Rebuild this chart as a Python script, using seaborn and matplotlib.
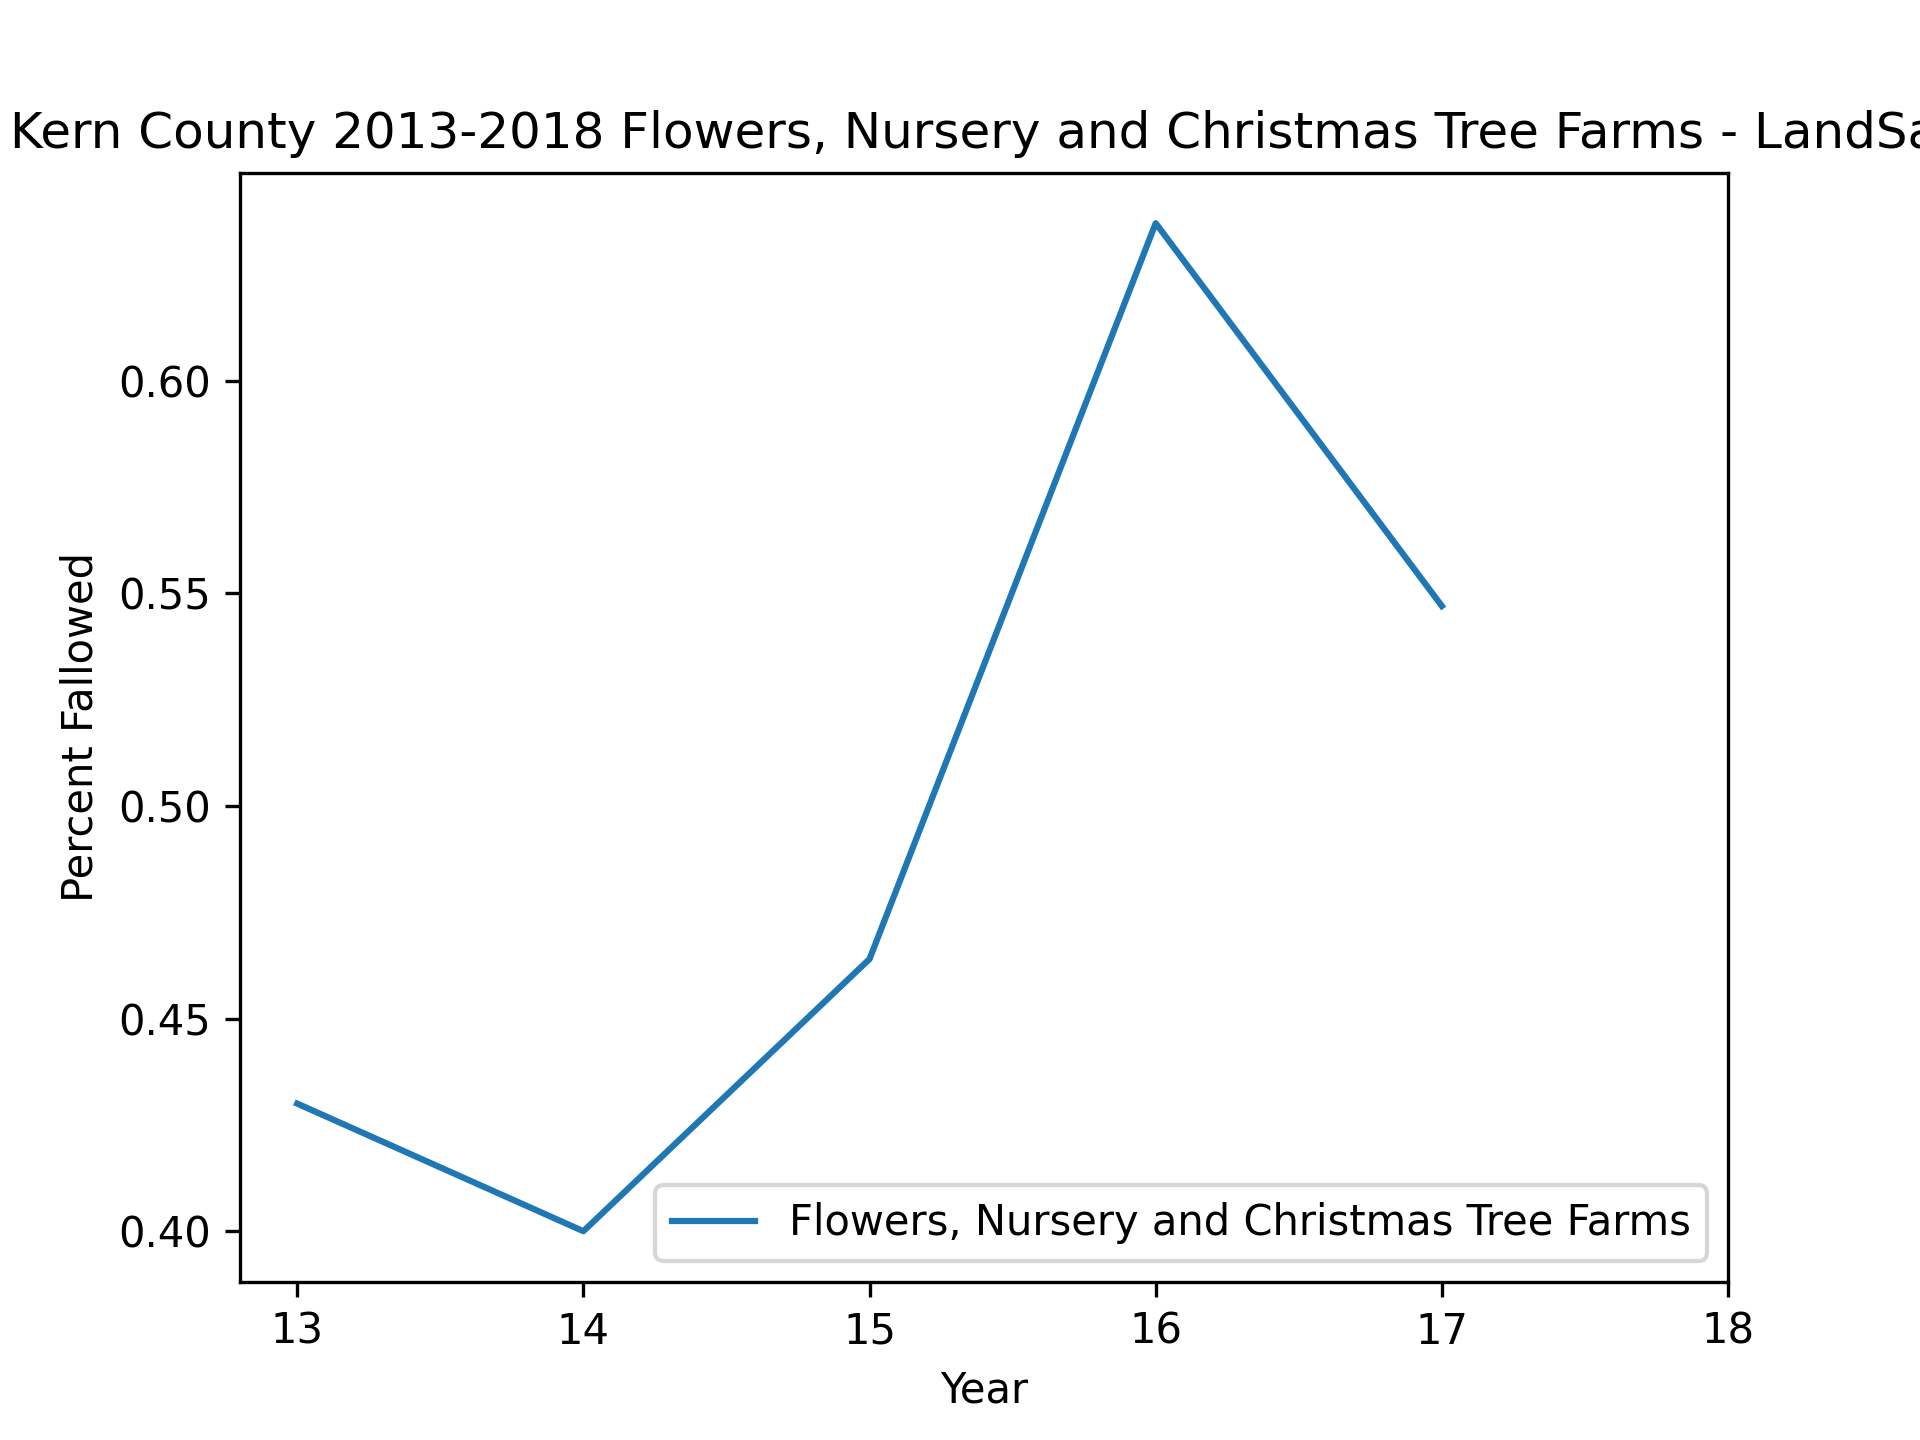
import numpy as np
import pandas as pd
import matplotlib
matplotlib.use("Agg")
import matplotlib.pyplot as plt
import seaborn as sns

years = [13, 14, 15, 16, 17, 18]
fallowed = [0.430, 0.400, 0.464, 0.637, 0.547, np.nan]
label = "Flowers, Nursery and Christmas Tree Farms"

df = pd.DataFrame({"Year": years, "Percent Fallowed": fallowed})

fig, ax = plt.subplots(figsize=(6.4, 4.8), dpi=300)
sns.lineplot(data=df, x="Year", y="Percent Fallowed", ax=ax, color="#1f77b4", label=label)
ax.set_xlim(12.8, 18)
ax.set_xticks(years)
ax.set_title("Kern County 2013-2018 Flowers, Nursery and Christmas Tree Farms - LandSat")
ax.legend(loc="lower right")
fig.savefig("out.png", dpi=300)
